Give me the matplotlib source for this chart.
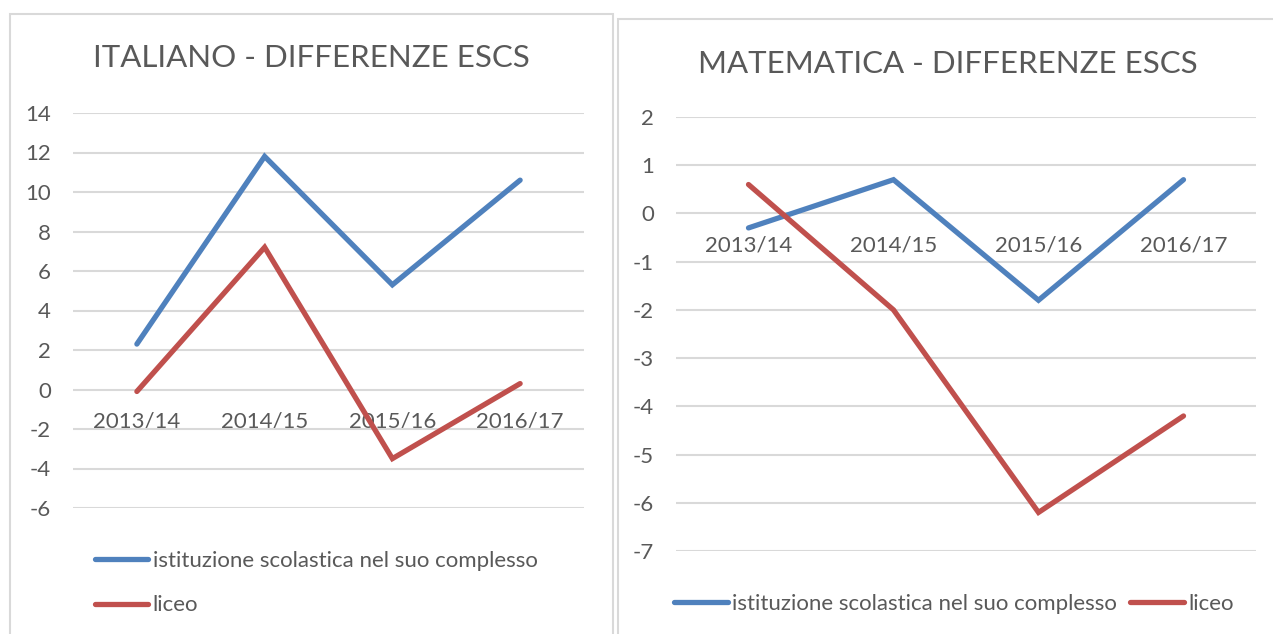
import matplotlib
matplotlib.use("Agg")
import matplotlib.pyplot as plt
from matplotlib.patches import Rectangle

plt.rcParams['font.family'] = ['Lato', 'DejaVu Sans']

categories = ["2013/14", "2014/15", "2015/16", "2016/17"]
series_names = ["istituzione scolastica nel suo complesso", "liceo"]
ita_istituzione = [2.3, 11.8, 5.3, 10.6]
ita_liceo = [-0.1, 7.2, -3.5, 0.3]
mat_istituzione = [-0.3, 0.7, -1.8, 0.7]
mat_liceo = [0.6, -2.0, -6.2, -4.2]
ita_yticks = [14, 12, 10, 8, 6, 4, 2, 0, -2, -4, -6]
mat_yticks = [2, 1, 0, -1, -2, -3, -4, -5, -6, -7]
titles = ["ITALIANO - DIFFERENZE ESCS", "MATEMATICA - DIFFERENZE ESCS"]

BLUE = "#4F81BD"
RED = "#C0504D"
GRID = "#D9D9D9"
TXT = "#595959"

W, H = 1273, 634
fig = plt.figure(figsize=(W / 100, H / 100), dpi=100)
fig.patch.set_facecolor("white")

def px_rect(x0, y0, x1, y1):
    return [x0 / W, 1 - y1 / H, (x1 - x0) / W, (y1 - y0) / H]

# chart borders
fig.add_artist(Rectangle((10 / W, -0.05), (613 - 10) / W, (H - 14) / H + 0.05,
                         transform=fig.transFigure, fill=False, ec=GRID, lw=1.5))
fig.add_artist(Rectangle((618 / W, -0.05), 0.6, (H - 19) / H + 0.05,
                         transform=fig.transFigure, fill=False, ec=GRID, lw=1.5))

def make_axes(rect, ylim, yticks, s1, s2):
    ax = fig.add_axes(rect)
    x = list(range(len(categories)))
    ax.plot(x, s1, color=BLUE, lw=3.8, solid_capstyle='round', solid_joinstyle='miter', label=series_names[0], zorder=3)
    ax.plot(x, s2, color=RED, lw=3.8, solid_capstyle='round', solid_joinstyle='miter', label=series_names[1], zorder=3)
    ax.set_xlim(-0.5, len(categories) - 0.5)
    ax.set_ylim(*ylim)
    ax.set_yticks(yticks)
    ax.set_yticklabels([str(t) for t in yticks])
    ax.yaxis.grid(True, color=GRID, lw=1.5)
    ax.set_axisbelow(True)
    for s in ax.spines.values():
        s.set_visible(False)
    ax.tick_params(axis='y', length=0, pad=16, labelsize=16, labelcolor=TXT)
    ax.spines['bottom'].set_position(('data', 0))
    ax.set_xticks(x)
    ax.set_xticklabels(categories)
    ax.tick_params(axis='x', length=0, pad=16, labelsize=16, labelcolor=TXT)
    ax.set_facecolor("none")
    return ax

ax1 = make_axes(px_rect(73, 113, 584, 508), (-6, 14), ita_yticks, ita_istituzione, ita_liceo)
ax2 = make_axes(px_rect(676, 117, 1256, 551), (-7, 2), mat_yticks, mat_istituzione, mat_liceo)

fig.text(311.5 / W, 1 - 58 / H, titles[0], ha='center', va='center', fontsize=22.5, color=TXT)
fig.text(948 / W, 1 - 64 / H, titles[1], ha='center', va='center', fontsize=22.5, color=TXT)

leg1 = ax1.legend(loc='upper left', bbox_to_anchor=(95 / W, 1 - 551 / H), bbox_transform=fig.transFigure,
                  frameon=False, fontsize=16, handlelength=2.4, handletextpad=0.2, labelspacing=1.1,
                  borderpad=0, borderaxespad=0, labelcolor=TXT)
leg2 = ax2.legend(loc='center', bbox_to_anchor=(954 / W, 1 - 604 / H), bbox_transform=fig.transFigure,
                  frameon=False, fontsize=16, ncol=2, handlelength=2.4, handletextpad=0.2, columnspacing=0.6,
                  borderpad=0, borderaxespad=0, labelcolor=TXT)

fig.savefig("out.png", dpi=100)
